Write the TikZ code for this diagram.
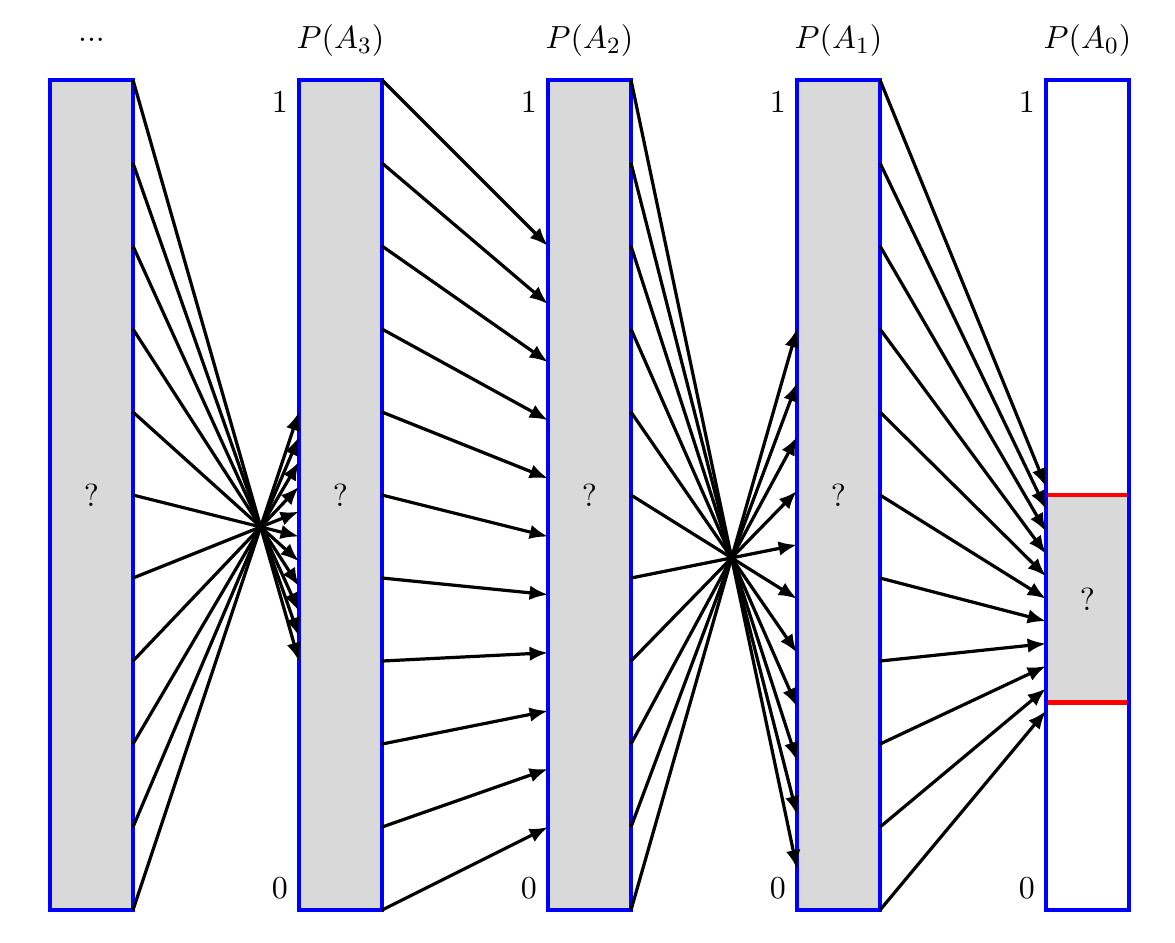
\documentclass[11pt,tikz,border=0pt]{standalone}
\usepackage{tikz}
\usetikzlibrary{arrows.meta,calc,positioning}

\begin{document}
\begin{tikzpicture}[x=1cm,y=1cm,
  bar/.style={draw=blue,line width=1.4pt,minimum width=1cm,minimum height=10cm,
    inner sep=0pt,outer sep=0pt,anchor=south west},
  link/.style={black,line width=1.1pt},
  arr/.style={link,-{Latex[length=6.3pt,width=5pt]}}]
  \useasboundingbox (-0.602,-0.386) rectangle (13.554,10.964);
  % bars
  \node[bar,fill=gray!30] (pa4) at (0,0) {?};
  \node[bar,fill=gray!30] (pa3) at (3,0) {?};
  \node[bar,fill=gray!30] (pa2) at (6,0) {?};
  \node[bar,fill=gray!30] (pa1) at (9,0) {?};
  \fill[gray!30] (12,2.5) rectangle (13,5);
  \draw[red,line width=1.4pt] (12,2.5) -- (13,2.5) (12,5) -- (13,5);
  \node (q0) at (12.5,3.75) {?};
  \node[bar] (pa0) at (12,0) {};
  % titles
  \node (t4) at (0.5,10.49) {...};
  \node (t3) at (3.5,10.47) {$P(A_3)$};
  \node (t2) at (6.5,10.47) {$P(A_2)$};
  \node (t1) at (9.5,10.47) {$P(A_1)$};
  \node (t0) at (12.5,10.47) {$P(A_0)$};
  \foreach \b in {pa3,pa2,pa1,pa0} {
    \node[below left] at (\b.north west) {1};
    \node[above left] at (\b.south west) {0};
  }
  % crossing points
  \coordinate (f1) at (2.5385,4.6154);
  \coordinate (f2) at (8.2121,4.2424);
  % maps
  \foreach \i in {0,...,10} {
    \draw[link] ($(pa4.south east)+(0,\i)$) -- (f1);
    \draw[arr] (f1) -- ($(pa3.south west)+(0,6-0.3*\i)$);
    \draw[arr] ($(pa3.south east)+(0,\i)$) -- ($(pa2.south west)+(0,1+0.7*\i)$);
    \draw[link] ($(pa2.south east)+(0,\i)$) -- (f2);
    \draw[arr] (f2) -- ($(pa1.south west)+(0,7-0.65*\i)$);
    \draw[arr] ($(pa1.south east)+(0,\i)$) -- ($(pa0.south west)+(0,2.4+0.27*\i)$);
  }
\end{tikzpicture}
\end{document}
